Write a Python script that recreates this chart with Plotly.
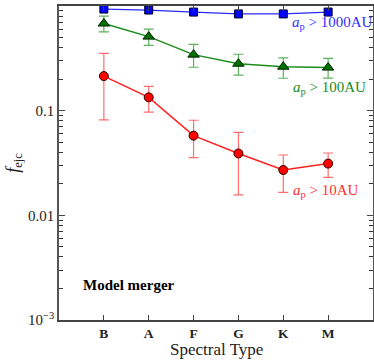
import plotly.graph_objects as go

categories = ["B", "A", "F", "G", "K", "M"]
x_idx = list(range(len(categories)))

f_1000 = [0.935, 0.915, 0.875, 0.84, 0.84, 0.875]

f_100 = [0.68, 0.51, 0.343, 0.281, 0.263, 0.258]
f_100_hi = [0.80, 0.60, 0.43, 0.346, 0.32, 0.316]
f_100_lo = [0.565, 0.42, 0.26, 0.219, 0.204, 0.205]

f_10 = [0.214, 0.134, 0.0577, 0.039, 0.0271, 0.0312]
f_10_hi = [0.353, 0.171, 0.081, 0.062, 0.0377, 0.0394]
f_10_lo = [0.0815, 0.097, 0.0356, 0.0157, 0.0166, 0.0231]

ytick_vals = [0.001, 0.01, 0.1, 1]
ytick_text = ["10<sup>−3</sup>", "0.01", "0.1", "1"]
minor_vals = [m * 10.0 ** e for e in (-3, -2, -1) for m in range(2, 10)]

FONT = "Liberation Serif"

def err(v, hi, lo):
    return ([h - a for a, h in zip(v, hi)], [a - l for a, l in zip(v, lo)])

fig = go.Figure()

ep, em = err(f_10, f_10_hi, f_10_lo)
fig.add_trace(go.Scatter(
    x=x_idx, y=f_10, mode="lines+markers",
    line=dict(color="#ff2020", width=1.5),
    marker=dict(symbol="circle", size=9, color="#ff0000", line=dict(color="#300000", width=1)),
    error_y=dict(type="data", array=ep, arrayminus=em, color="rgba(255,60,60,0.75)", thickness=1.2, width=5),
))
ep, em = err(f_100, f_100_hi, f_100_lo)
fig.add_trace(go.Scatter(
    x=x_idx, y=f_100, mode="lines+markers",
    line=dict(color="#1a8c1a", width=1.5),
    marker=dict(symbol="triangle-up", size=10, color="#007000", line=dict(color="#002000", width=1)),
    error_y=dict(type="data", array=ep, arrayminus=em, color="rgba(40,150,40,0.75)", thickness=1.2, width=5),
))
fig.add_trace(go.Scatter(
    x=x_idx, y=f_1000, mode="lines+markers",
    line=dict(color="#2a2aff", width=1.3),
    marker=dict(symbol="square", size=8, color="#0000ff", line=dict(color="#000030", width=1)),
))

anns = [
    dict(x=5.1, y=-0.162, text="<i>a</i><sub>p</sub> > 1000AU", color="#3030ff"),
    dict(x=5.02, y=-0.78, text="<i>a</i><sub>p</sub> > 100AU", color="#1a8c1a"),
    dict(x=4.95, y=-1.765, text="<i>a</i><sub>p</sub> > 10AU", color="#ff3030"),
]
for a in anns:
    fig.add_annotation(x=a["x"], y=a["y"], xref="x", yref="y", text=a["text"],
                       showarrow=False, font=dict(family=FONT, size=15, color=a["color"]))
fig.add_annotation(x=-0.52, y=-2.665, xref="x", yref="y", xanchor="left",
                   text="<b>Model merger</b>", showarrow=False,
                   font=dict(family=FONT, size=15, color="black"))
fig.add_annotation(x=0.5, y=-0.1306, xref="paper", yref="paper", yanchor="bottom",
                   text="Spectral Type", showarrow=False,
                   font=dict(family=FONT, size=17, color="#222"))

fig.update_layout(
    width=374, height=361,
    margin=dict(l=59, r=1, t=6, b=41),
    paper_bgcolor="white", plot_bgcolor="white",
    showlegend=False,
    font=dict(family=FONT, size=15, color="#222"),
)

fig.update_xaxes(
    range=[-1, 6], tickvals=x_idx, ticktext=["<b>%s</b>" % c for c in categories],
    ticks="inside", ticklen=5, tickcolor="#444", mirror="ticks",
    showline=True, linecolor="#444", linewidth=1.5, showgrid=False, zeroline=False,
    tickfont=dict(size=13.5), automargin=False,
)
fig.update_yaxes(
    type="log", range=[-3, 0], tickvals=ytick_vals, ticktext=ytick_text,
    ticks="inside", ticklen=6, tickcolor="#444", mirror="ticks",
    showline=True, linecolor="#555", linewidth=1.5, showgrid=False, zeroline=False,
    minor=dict(tickmode="array", tickvals=minor_vals, ticks="inside", ticklen=4,
               tickwidth=1, tickcolor="#333", showgrid=False),
    title=dict(text="<i>f</i><sub>ejc</sub>", font=dict(size=18), standoff=4),
    tickfont=dict(size=15), automargin=False,
)

fig.write_html("out.html", post_script="document.body.style.margin='0';",
               config={"displayModeBar": False})
